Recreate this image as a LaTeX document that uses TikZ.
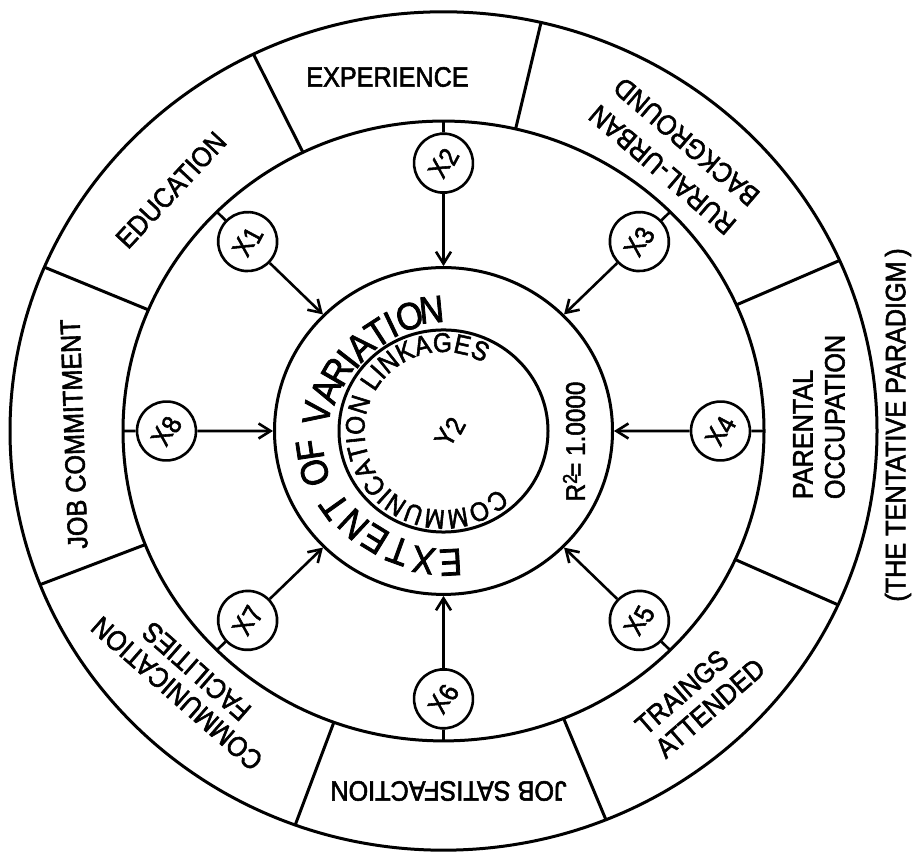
\documentclass[tikz,border=0pt]{standalone}
\usepackage{fontspec}
\setmainfont{Liberation Sans}
\newfontfamily\lab[FakeStretch=0.9,FakeBold=2]{Liberation Sans}
\usetikzlibrary{arrows.meta,decorations.text}
\tikzset{
  ring/.style={line width=3pt},
  var/.style={circle, draw, line width=2.6pt, minimum size=59pt, inner sep=0pt, font=\lab\fontsize{27}{27}\selectfont},
  seg/.style={font=\lab\fontsize{28}{30}\selectfont, inner sep=0pt},
  arr/.style={line width=2.6pt, -{Straight Barb[length=12pt,width=15pt]}},
  stem/.style={line width=2.6pt},
  arcl/.style={font=\lab\fontsize{38}{38}\selectfont, inner sep=0pt},
  rlab/.style={font=\lab\fontsize{27}{27}\selectfont, inner sep=0pt},
}
\begin{document}
\begin{tikzpicture}[x=1pt,y=1pt]
\useasboundingbox (0,0) rectangle (920,858);
\begin{scope}[shift={(443.5,427)}, yscale=0.967]
  \draw[ring] (0,0) circle (433.5);
  \draw[ring] (0,0) circle (320.5);
  \draw[ring] (0,0) circle (169);
  \draw[ring] (0,0) circle (104.5);
  \foreach \a in {24,77,116,157,201.5,250,292,335.5}
    \draw[ring] (\a:320.5) -- (\a:433.5);
  \foreach \i/\a in {1/135,2/90,3/45,4/0,5/-45,6/-90,7/-135,8/180} {
    \node[var, rotate=62] (x\i) at (\a:277) {X\raisebox{-3pt}{\i}};
    \coordinate (s\i) at (\a:320.5);
    \coordinate (t\i) at (\a:170.5);
    \draw[stem] (x\i) -- (s\i);
    \draw[arr] (x\i) -- (t\i);
  }
  \foreach \c/\a/\r in {E/273/136, X/261.5/135, T/250/132, E/238.5/131, N/227/132, T/215.5/134, O/198.4/136, F/188.4/135, V/171.6/128, A/160.5/125, R/150/123, I/142/121, A/133.5/121, T/123/121, I/115.5/122, O/106/123.5, N/95.5/126}
    \node[arcl, rotate=\a-90] at (\a:\r) {\c};
\end{scope}
\path[decorate, decoration={text along path, text={|\lab\fontsize{27}{27}\selectfont|COMMUNICATION LINKAGES}, text align={fit to path}}]
  (443.5,427) ++(-46:79) arc[start angle=-46, end angle=-300.5, radius=79];
\node[rlab, rotate=62] (y2) at (450,426) {Y\raisebox{-3pt}{2}};
\node[rlab, rotate=90] (r2) at (574,416.5) {R\raisebox{8pt}{\fontsize{20}{20}\selectfont 2}\kern-3pt= 1.0000};
\node[seg] (exp) at (387.5,781) {EXPERIENCE};
\node[seg, rotate=47] (edu) at (171,668) {EDUCATION};
\node[seg, rotate=92] (jc) at (74,424) {JOB COMMITMENT};
\node[seg, rotate=138.75, align=center] (cf) at (186.75,175.5) {COMMUNICATION\\[-0.5pt]FACILITIES};
\node[seg, rotate=180] (js) at (448.5,67) {JOB SATISFACTION};
\node[seg, rotate=41, align=left] (tr) at (700,161.5) {TRAINGS\\[0.6pt]ATTENDED};
\node[seg, rotate=90, align=left] (po) at (819,441) {PARENTAL\\[2pt]OCCUPATION};
\node[seg, rotate=139.5, align=center] (ru) at (674.5,702.25) {RURAL-URBAN\\[7pt]BACKGROUND};
\node[seg, rotate=90] (tp) at (898,433) {(THE TENTATIVE PARADIGM\,)};
\end{tikzpicture}
\end{document}
